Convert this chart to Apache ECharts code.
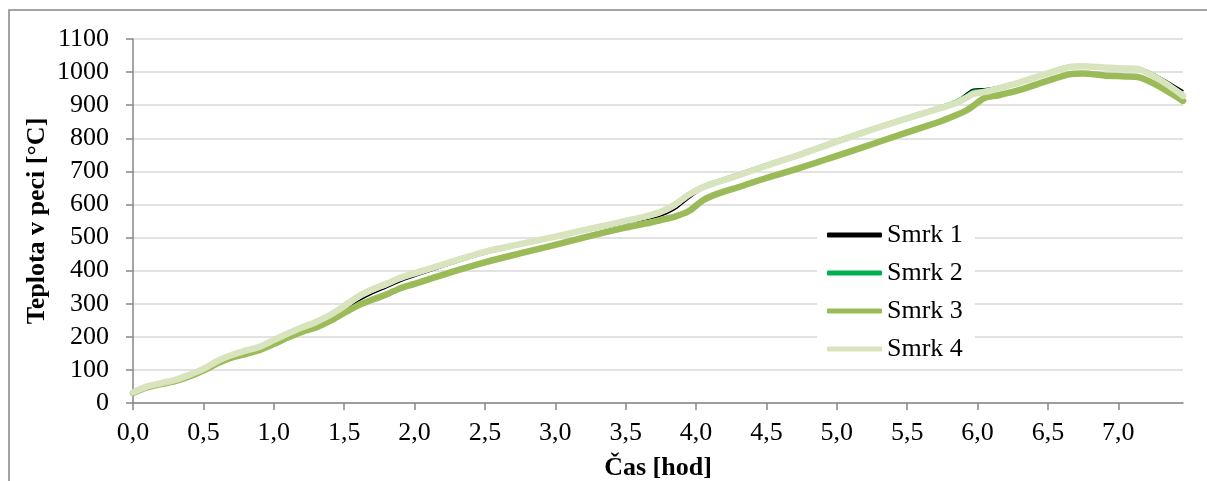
<!DOCTYPE html>
<html>
<head>
<meta charset="utf-8">
<script src="https://cdn.jsdelivr.net/npm/echarts@6/dist/echarts.min.js"></script>
<style>
  html, body { margin: 0; padding: 0; background: #fff; }
  #chart { width: 1207px; height: 481px; }
</style>
</head>
<body>
<div id="chart"></div>
<script>
// Time of measurement [h]
const hours = [0, 0.1, 0.2, 0.3, 0.4, 0.5, 0.6, 0.7, 0.8, 0.9, 1.0, 1.1, 1.2, 1.3, 1.4, 1.5, 1.6, 1.7, 1.8, 1.9,
  2.0, 2.25, 2.5, 2.75, 3.0, 3.25, 3.5, 3.65, 3.75, 3.85, 3.95, 4.05, 4.15, 4.3, 4.5, 4.75, 5.0, 5.25, 5.5, 5.75,
  5.85, 5.92, 5.97, 6.05, 6.15, 6.3, 6.5, 6.65, 6.75, 6.9, 7.05, 7.15, 7.25, 7.35, 7.46];

// Furnace temperature [°C] for each spruce specimen
const smrk1 = [32, 49, 59, 69, 84, 102, 125, 143, 156, 168, 187, 206, 222, 238, 256, 280, 308, 330, 348, 367,
  382, 418, 450, 475, 499, 521, 542, 555, 565, 585, 618, 648, 665, 688, 718, 754, 791, 828, 862, 896,
  912, 935, 948, 950, 956, 973, 1000, 1019, 1020, 1017, 1015, 1013, 996, 972, 944];
const smrk2 = [33, 50, 60, 70, 85, 103, 127, 145, 158, 171, 192, 212, 230, 248, 270, 298, 328, 349, 366, 384,
  398, 430, 462, 484, 506, 529, 551, 566, 579, 602, 637, 659, 674, 695, 724, 759, 797, 833, 867, 900,
  916, 932, 945, 948, 957, 975, 1002, 1021, 1022, 1018, 1016, 1013, 995, 969, 937];
const smrk3 = [30, 47, 57, 66, 80, 98, 120, 137, 148, 160, 178, 198, 215, 228, 248, 272, 295, 312, 328, 347,
  360, 394, 425, 452, 478, 505, 530, 543, 553, 563, 580, 613, 632, 652, 680, 712, 747, 782, 818, 853,
  870, 884, 898, 922, 930, 946, 974, 993, 996, 990, 987, 984, 966, 942, 913];
const smrk4 = [32, 50, 60, 70, 85, 103, 127, 145, 158, 170, 190, 210, 228, 245, 266, 293, 322, 343, 360, 378,
  392, 425, 457, 480, 503, 527, 550, 565, 578, 600, 630, 652, 667, 688, 717, 752, 790, 826, 860, 893,
  907, 922, 934, 940, 951, 969, 996, 1015, 1018, 1014, 1011, 1008, 988, 962, 928];

const seriesNames = ['Smrk 1', 'Smrk 2', 'Smrk 3', 'Smrk 4'];
const seriesData = [smrk1, smrk2, smrk3, smrk4];
const seriesColors = ['#000000', '#00B050', '#9BBB59', '#D7E4BD'];
const seriesWidths = [1.5, 1.5, 6.5, 6.5];

const xTicks = [0, 0.5, 1.0, 1.5, 2.0, 2.5, 3.0, 3.5, 4.0, 4.5, 5.0, 5.5, 6.0, 6.5, 7.0];

const FONT = '"Liberation Serif", "Times New Roman", serif';
const FONT_SIZE = 26;
const AXIS_GREY = '#868686';

const chart = echarts.init(document.getElementById('chart'), null, { renderer: 'canvas' });

chart.setOption({
  animation: false,
  backgroundColor: '#ffffff',
  graphic: [{
    type: 'rect',
    shape: { x: 9, y: 10, width: 1400, height: 600 },
    style: { fill: 'none', stroke: AXIS_GREY, lineWidth: 1.5 },
    silent: true,
    z: 0
  }],
  grid: { left: 133, right: 24, top: 39, bottom: 78, outerBoundsMode: 'none', containLabel: false },
  legend: {
    orient: 'vertical',
    left: 817,
    top: 220,
    padding: [2, 12, 2, 10],
    backgroundColor: '#ffffff',
    itemWidth: 55,
    itemHeight: 5,
    itemGap: 12,
    icon: 'roundRect',
    textStyle: { fontFamily: FONT, fontSize: FONT_SIZE, color: '#000' },
    data: seriesNames
  },
  xAxis: {
    type: 'value',
    min: 0,
    max: 7.46,
    name: 'Čas [hod]',
    nameLocation: 'middle',
    nameGap: 52,
    nameMoveOverlap: false,
    nameTextStyle: { fontFamily: FONT, fontSize: FONT_SIZE, fontWeight: 'bold', color: '#000' },
    axisLine: { show: true, lineStyle: { color: AXIS_GREY, width: 1.5 } },
    axisTick: { show: true, length: 7, lineStyle: { color: AXIS_GREY, width: 1.5 }, customValues: xTicks },
    axisLabel: {
      fontFamily: FONT, fontSize: FONT_SIZE, color: '#000', margin: 17,
      customValues: xTicks,
      formatter: v => v.toFixed(1).replace('.', ',')
    },
    splitLine: { show: false }
  },
  yAxis: {
    type: 'value',
    min: 0,
    max: 1100,
    interval: 100,
    name: 'Teplota v peci [°C]',
    nameLocation: 'middle',
    nameGap: 83,
    nameMoveOverlap: false,
    nameTextStyle: { fontFamily: FONT, fontSize: FONT_SIZE, fontWeight: 'bold', color: '#000' },
    axisLine: { show: true, lineStyle: { color: AXIS_GREY, width: 1.5 } },
    axisTick: { show: true, length: 7, lineStyle: { color: AXIS_GREY, width: 1.5 } },
    axisLabel: { fontFamily: FONT, fontSize: FONT_SIZE, color: '#000', margin: 24, formatter: v => String(v) },
    splitLine: { show: true, lineStyle: { color: '#D9D9D9', width: 1.5 } }
  },
  series: seriesNames.map((name, i) => ({
    name: name,
    type: 'line',
    data: hours.map((h, k) => [h, seriesData[i][k]]),
    smooth: 0.3,
    showSymbol: false,
    symbol: 'none',
    color: seriesColors[i],
    lineStyle: { color: seriesColors[i], width: seriesWidths[i], cap: 'round', join: 'round' },
    emphasis: { disabled: true }
  }))
});
</script>
</body>
</html>
